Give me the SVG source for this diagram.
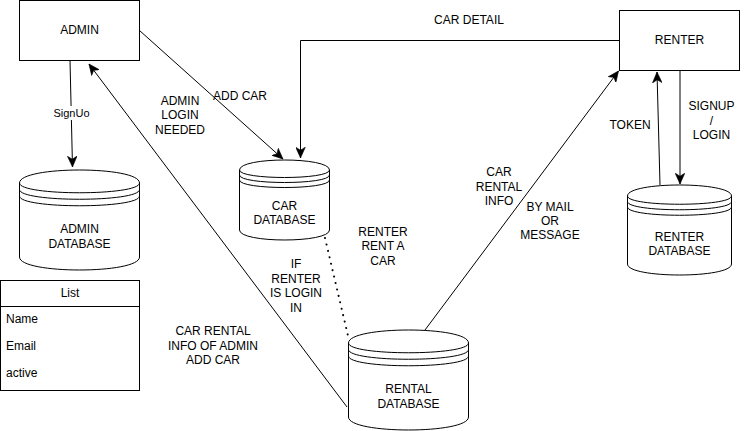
<svg xmlns="http://www.w3.org/2000/svg" width="750" height="431" viewBox="0 0 750 431">
<defs>
<style>
.box{fill:#fff;stroke:#000;stroke-width:1}
.db{fill:#fff;stroke:#000;stroke-width:1}
.ln{fill:none;stroke:#000;stroke-width:1}
.edge{fill:none;stroke:#000;stroke-width:1}
.dot{fill:none;stroke:#000;stroke-width:2;stroke-dasharray:0.1 6.5;stroke-linecap:round}
text{font-family:"Liberation Sans",Arial,Helvetica,sans-serif;font-size:12px;fill:#000}
.c{text-anchor:middle}
.s{font-size:11px}
</style>
<marker id="arr" markerUnits="userSpaceOnUse" markerWidth="12" markerHeight="10" viewBox="0 0 10 8" refX="9" refY="4" orient="auto">
<path d="M0,0 L9,4 L0,8 L2.5,4 Z" fill="#000" stroke="#000" stroke-width="0.5"/>
</marker>
</defs>
<rect width="750" height="431" fill="#fff"/>

<g id="connectors">
<path class="edge" d="M70,60.5 L72.5,167" marker-end="url(#arr)"/>
<rect x="51" y="106" width="40" height="14" fill="#fff"/>
<text class="c s" x="71.5" y="117">SignUo</text>
<path class="edge" d="M139.5,30.5 L283,159" marker-end="url(#arr)"/>
<path class="edge" d="M619.5,40.5 L300.5,40.5 L300.5,158" marker-end="url(#arr)"/>
<path class="edge" d="M347,407 L89,64" marker-end="url(#arr)"/>
<path class="dot" d="M325,238 L349,340"/>
<path class="edge" d="M425,330 L618.5,71" marker-end="url(#arr)"/>
<path class="edge" d="M660,185 L657,72" marker-end="url(#arr)"/>
<path class="edge" d="M680,70.5 L680,184" marker-end="url(#arr)"/>
</g>

<g id="labels">
<text class="c" x="240" y="100.3">ADD CAR</text>
<text class="c" x="180" y="104.9">ADMIN</text>
<text class="c" x="180" y="119.3">LOGIN</text>
<text class="c" x="180" y="133.7">NEEDED</text>
<text class="c" x="469" y="24.3">CAR DETAIL</text>
<text class="c" x="296" y="268.3">IF</text>
<text class="c" x="296" y="282.7">RENTER</text>
<text class="c" x="296" y="297.1">IS LOGIN</text>
<text class="c" x="296" y="311.5">IN</text>
<text class="c" x="383" y="235.9">RENTER</text>
<text class="c" x="383" y="250.3">RENT A</text>
<text class="c" x="383" y="264.7">CAR</text>
<text class="c" x="499" y="176.3">CAR</text>
<text class="c" x="499" y="190.5">RENTAL</text>
<text class="c" x="499" y="204.7">INFO</text>
<text class="c" x="550" y="210.8">BY MAIL</text>
<text class="c" x="550" y="225">OR</text>
<text class="c" x="550" y="239.2">MESSAGE</text>
<text class="c" x="213" y="335.3">CAR RENTAL</text>
<text class="c" x="213" y="349.7">INFO OF ADMIN</text>
<text class="c" x="213" y="364.1">ADD CAR</text>
<text class="c" x="630" y="129.3">TOKEN</text>
<text class="c" x="711.5" y="110.3">SIGNUP</text>
<text class="c" x="711.5" y="124.7">/</text>
<text class="c" x="711.5" y="139.3">LOGIN</text>
</g>

<g id="admin">
<rect class="box" x="19.5" y="0.5" width="120" height="60"/>
<text class="c" x="79.5" y="34.3">ADMIN</text>
</g>

<g id="renter">
<rect class="box" x="619.5" y="10.5" width="120" height="60"/>
<text class="c" x="679.5" y="44.3">RENTER</text>
</g>

<g id="admin-database">
<path class="db" d="M19.5,183 C19.5,165.67 139.5,165.67 139.5,183 L139.5,257 C139.5,274.33 19.5,274.33 19.5,257 Z"/>
<path class="ln" d="M19.5,183 C19.5,196 139.5,196 139.5,183 M19.5,189.5 C19.5,202.5 139.5,202.5 139.5,189.5 M19.5,196 C19.5,209 139.5,209 139.5,196"/>
<text class="c" x="79.5" y="233.3">ADMIN</text>
<text class="c" x="79.5" y="247.7">DATABASE</text>
</g>

<g id="car-database">
<path class="db" d="M239.5,170 C239.5,156.67 329.5,156.67 329.5,170 L329.5,230 C329.5,243.33 239.5,243.33 239.5,230 Z"/>
<path class="ln" d="M239.5,170 C239.5,180 329.5,180 329.5,170 M239.5,175 C239.5,185 329.5,185 329.5,175 M239.5,180 C239.5,190 329.5,190 329.5,180"/>
<text class="c" x="284.5" y="209.5">CAR</text>
<text class="c" x="284.5" y="224">DATABASE</text>
</g>

<g id="rental-database">
<path class="db" d="M348.5,343 C348.5,325.67 468.5,325.67 468.5,343 L468.5,417 C468.5,434.33 348.5,434.33 348.5,417 Z"/>
<path class="ln" d="M348.5,343 C348.5,356 468.5,356 468.5,343 M348.5,349.5 C348.5,362.5 468.5,362.5 468.5,349.5 M348.5,356 C348.5,369 468.5,369 468.5,356"/>
<text class="c" x="408.5" y="393.3">RENTAL</text>
<text class="c" x="408.5" y="407.7">DATABASE</text>
</g>

<g id="renter-database">
<path class="db" d="M627.5,196 C627.5,181.33 731.5,181.33 731.5,196 L731.5,264 C731.5,278.67 627.5,278.67 627.5,264 Z"/>
<path class="ln" d="M627.5,196 C627.5,207 731.5,207 731.5,196 M627.5,201.5 C627.5,212.5 731.5,212.5 731.5,201.5 M627.5,207 C627.5,218 731.5,218 731.5,207"/>
<text class="c" x="679.5" y="240.8">RENTER</text>
<text class="c" x="679.5" y="255.2">DATABASE</text>
</g>

<g id="list">
<rect class="box" x="0.5" y="280.5" width="139" height="110"/>
<path class="ln" d="M0.5,306.5 L139.5,306.5"/>
<text class="c" x="70" y="297.3">List</text>
<text x="6" y="322.5">Name</text>
<text x="6" y="350">Email</text>
<text x="6" y="377">active</text>
</g>
</svg>
